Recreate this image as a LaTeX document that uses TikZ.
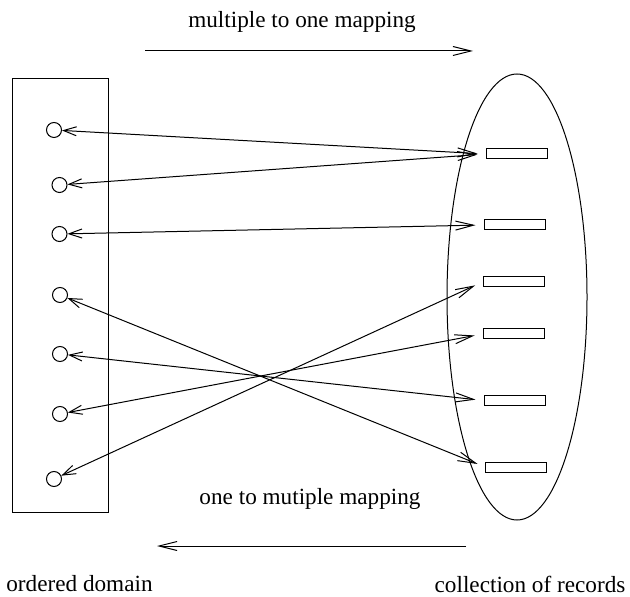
\documentclass[tikz,border=0pt]{standalone}
\usepackage{fontspec}
\setmainfont{Liberation Serif}
\usetikzlibrary{arrows.meta}
\begin{document}
\begin{tikzpicture}[x=0.5pt, y=-0.5pt, line width=0.5pt,
  dom/.style={circle, draw, inner sep=0pt, minimum size=7.5pt},
  rec/.style={rectangle, draw, inner sep=0pt, minimum width=30.5pt, minimum height=5pt},
  txt/.style={font=\fontsize{11.6}{14}\selectfont, anchor=base, inner sep=0pt},
  link/.style={{Straight Barb[length=6.5pt, width=4.5pt]}-{Straight Barb[length=9pt, width=4.5pt]}, shorten >=4pt},
  flow/.style={-{Straight Barb[length=9pt, width=4.5pt]}},
]
\useasboundingbox (0,0) rectangle (630,597);

% ordered domain box and its values
\draw (12,79) rectangle (108,512);
\node[dom] (c1) at (54,130) {};
\node[dom] (c2) at (59.5,185) {};
\node[dom] (c3) at (59.5,234) {};
\node[dom] (c4) at (60,295) {};
\node[dom] (c5) at (60,354) {};
\node[dom] (c6) at (60,414) {};
\node[dom] (c7) at (54,479) {};

% collection of records
\draw (517,297) ellipse [x radius=35pt, y radius=111.5pt];
\node[rec] (r1) at (516.5,154) {};
\node[rec] (r2) at (514.5,225) {};
\node[rec] (r3) at (513.5,282) {};
\node[rec] (r4) at (513.5,334) {};
\node[rec] (r5) at (514.5,400.5) {};
\node[rec] (r6) at (516,467) {};

% mappings between domain values and records
\draw[link] (c1) -- (r1.west);
\draw[link] (c2) -- (r1.west);
\draw[link] (c3) -- (r2.west);
\draw[link] (c4) -- (r6.west);
\draw[link] (c5) -- (r5.west);
\draw[link] (c6) -- (r4.west);
\draw[link] (c7) -- (r3.west);

% direction arrows and captions
\coordinate (m1) at (145,51);
\coordinate (m2) at (473,51);
\coordinate (o1) at (466,546);
\coordinate (o2) at (157,546);
\draw[flow] (m1) -- (m2);
\draw[flow] (o1) -- (o2);

\node[txt] (mto) at (302,28) {multiple to one mapping};
\node[txt] (otm) at (310,504) {one to mutiple mapping};
\node[txt] (od) at (79.5,591) {ordered domain};
\node[txt] (cr) at (530,592) {collection of records};
\end{tikzpicture}
\end{document}
